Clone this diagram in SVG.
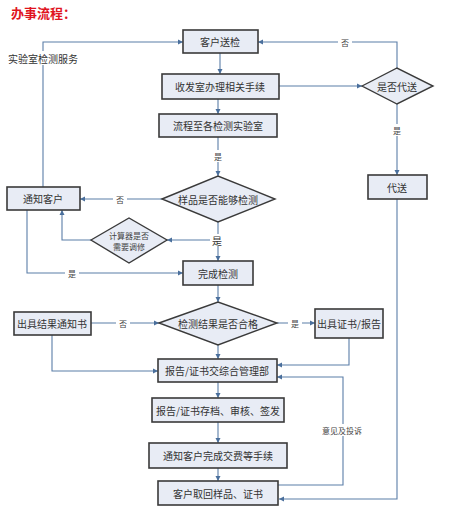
<svg xmlns="http://www.w3.org/2000/svg" width="450" height="516" viewBox="0 0 450 516">
<defs>
<marker id="ah" markerWidth="6" markerHeight="6" refX="5" refY="3" orient="auto" markerUnits="userSpaceOnUse">
<path d="M0,0.5 L5,3 L0,5.5 Z" fill="#4a6f9c"/>
</marker>
</defs>
<style>
.box{fill:#e8ecf5;stroke:#3a3a3a;stroke-width:1.6}
.dia{fill:#e8ecf5;stroke:#3a3a3a;stroke-width:1.4}
.t{font-family:"Noto Sans CJK SC","Liberation Serif",serif;font-size:10px;fill:#333;text-anchor:middle;dominant-baseline:central}
.s{font-family:"Noto Sans CJK SC","Liberation Serif",serif;font-size:8px;fill:#444;text-anchor:middle;dominant-baseline:central}
.c{fill:none;stroke:#5b7ea8;stroke-width:1.1;marker-end:url(#ah)}
.lb{fill:#fff}
</style>
<rect width="450" height="516" fill="#fff"/>
<text x="11" y="18" style="font-family:'Noto Sans CJK SC',sans-serif;font-size:13px;font-weight:bold;fill:#e0141e">办事流程：</text>

<g id="connectors">
<path class="c" d="M220,53 V74"/>
<path class="c" d="M218,99 V114"/>
<path class="c" d="M218,137 V176"/>
<path class="c" d="M279,86 H362"/>
<path class="c" d="M397,68 V42 H258"/>
<path class="c" d="M397,104 V175"/>
<path class="c" d="M397,199 V499 H279"/>
<path class="c" d="M162,199 H80"/>
<path class="c" d="M218,222 V261"/>
<path class="c" d="M218,240 H167"/>
<path class="c" d="M91,240 H62 V210"/>
<path class="c" d="M27,210 V273 H183"/>
<path class="c" d="M43,187 V42 H183"/>
<path class="c" d="M218,285 V302"/>
<path class="c" d="M91,323 H159"/>
<path class="c" d="M277,323 H315"/>
<path class="c" d="M218,345 V359"/>
<path class="c" d="M52,335 V371 H158"/>
<path class="c" d="M349,338 V365 H277"/>
<path class="c" d="M278,485 H343 V377 H277"/>
<path class="c" d="M218,382 V398"/>
<path class="c" d="M218,422 V443"/>
<path class="c" d="M218,468 V481"/>
<rect class="lb" x="338" y="36" width="14" height="12"/><text class="s" x="345" y="42">否</text>
<rect class="lb" x="390" y="124" width="14" height="12"/><text class="s" x="397" y="130">是</text>
<rect class="lb" x="211" y="150" width="14" height="12"/><text class="s" x="218" y="156">是</text>
<rect class="lb" x="113" y="193" width="14" height="12"/><text class="s" x="120" y="199">否</text>
<rect class="lb" x="210" y="234" width="14" height="12"/><text class="t" x="217" y="240">是</text>
<rect class="lb" x="65" y="267" width="14" height="12"/><text class="s" x="72" y="273">是</text>
<rect class="lb" x="116" y="317" width="14" height="12"/><text class="s" x="123" y="323">否</text>
<rect class="lb" x="288" y="317" width="14" height="12"/><text class="s" x="295" y="323">是</text>
<rect class="lb" x="6" y="51" width="74" height="14"/><text class="t" x="43" y="58">实验室检测服务</text>
<rect class="lb" x="320" y="424" width="45" height="12"/><text class="s" x="342" y="430">意见及投诉</text>
</g>

<g id="n1"><rect class="box" x="183" y="30" width="75" height="23"/><text class="t" x="220" y="41.5">客户送检</text></g>
<g id="n2"><rect class="box" x="162" y="74" width="117" height="25"/><text class="t" x="220" y="86.5">收发室办理相关手续</text></g>
<g id="n3"><rect class="box" x="159" y="114" width="118" height="23"/><text class="t" x="218" y="125.5">流程至各检测实验室</text></g>
<g id="n4"><polygon class="dia" points="162,199 218,176 275,199 218,222"/><text class="t" x="218" y="199">样品是否能够检测</text></g>
<g id="n5"><rect class="box" x="7" y="187" width="73" height="23"/><text class="t" x="43" y="198.5">通知客户</text></g>
<g id="n6"><polygon class="dia" points="91,240 129,218 167,240 129,263"/><text class="s" x="129" y="235">计算器是否</text><text class="s" x="129" y="246">需要调修</text></g>
<g id="n7"><polygon class="dia" points="362,86 397,68 433,86 397,104"/><text class="t" x="397" y="86">是否代送</text></g>
<g id="n8"><rect class="box" x="368" y="175" width="59" height="24"/><text class="t" x="397" y="187">代送</text></g>
<g id="n9"><rect class="box" x="183" y="261" width="70" height="24"/><text class="t" x="218" y="273">完成检测</text></g>
<g id="n10"><polygon class="dia" points="159,323 218,302 277,323 218,345"/><text class="t" x="218" y="323">检测结果是否合格</text></g>
<g id="n11"><rect class="box" x="14" y="312" width="77" height="23"/><text class="t" x="52" y="323.5">出具结果通知书</text></g>
<g id="n12"><rect class="box" x="315" y="309" width="68" height="29"/><text class="t" x="349" y="323.5">出具证书/报告</text></g>
<g id="n13"><rect class="box" x="158" y="359" width="119" height="23"/><text class="t" x="217" y="370.5">报告/证书交综合管理部</text></g>
<g id="n14"><rect class="box" x="152" y="398" width="132" height="24"/><text class="t" x="218" y="410">报告/证书存档、审核、签发</text></g>
<g id="n15"><rect class="box" x="149" y="443" width="138" height="25"/><text class="t" x="218" y="455.5">通知客户完成交费等手续</text></g>
<g id="n16"><rect class="box" x="158" y="481" width="120" height="24"/><text class="t" x="218" y="493">客户取回样品、证书</text></g>
</svg>
